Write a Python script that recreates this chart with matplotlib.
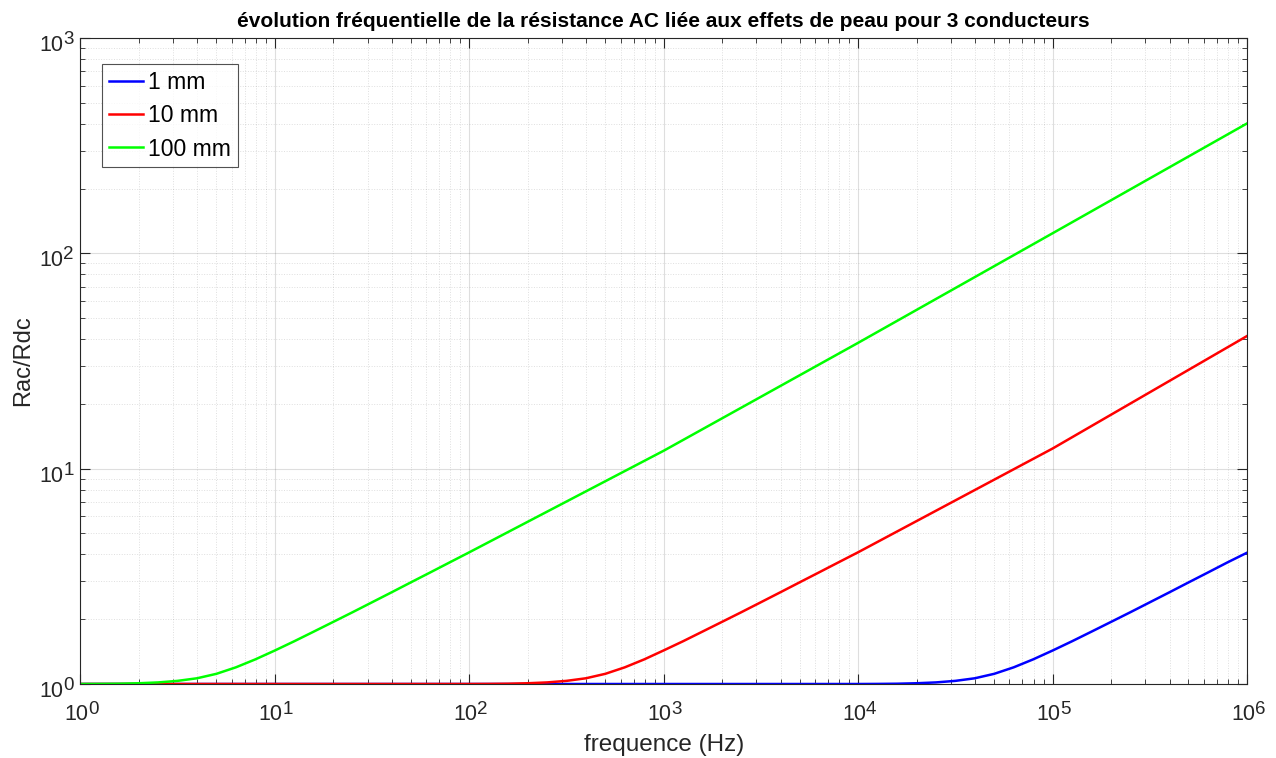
import matplotlib
matplotlib.use("Agg")
import matplotlib.pyplot as plt
from matplotlib.ticker import LogLocator, NullFormatter, FixedLocator

# ---- data ----
f_green = [1, 1.259, 1.585, 1.995, 2.512, 3.162, 3.981, 5.012, 6.310, 7.943, 10,
           12.59, 15.85, 19.95, 25.12, 31.62, 39.81, 50.12, 63.10, 79.43, 100,
           1e3, 1e4, 1e5, 1e6]
r_green = [1.000, 1.001, 1.003, 1.008, 1.017, 1.034, 1.063, 1.115, 1.195, 1.301, 1.430,
           1.579, 1.750, 1.941, 2.154, 2.395, 2.663, 2.965, 3.298, 3.672, 4.087,
           12.11, 38.4, 123.9, 401]

f_red = [1, 10, 100, 125.9, 158.5, 199.5, 251.2, 316.2, 398.1, 501.2, 631.0, 794.3, 1e3,
         1259, 1585, 1995, 2512, 3162, 3981, 5012, 6310, 7943, 1e4, 1e5, 1e6]
r_red = [1.0, 1.0, 1.000, 1.001, 1.003, 1.008, 1.017, 1.034, 1.063, 1.115, 1.195, 1.301,
         1.432, 1.580, 1.752, 1.943, 2.156, 2.397, 2.666, 2.968, 3.302, 3.676, 4.09,
         12.4, 41.3]

f_blue = [1, 10, 100, 1e3, 1e4, 1.259e4, 1.585e4, 1.995e4, 2.512e4, 3.162e4, 3.981e4,
          5.012e4, 6.310e4, 7.943e4, 1e5, 1.259e5, 1.585e5, 1.995e5, 2.512e5, 3.162e5,
          3.981e5, 5.012e5, 6.310e5, 7.943e5, 1e6]
r_blue = [1.0, 1.0, 1.0, 1.0, 1.000, 1.001, 1.003, 1.008, 1.017, 1.034, 1.063, 1.115,
          1.195, 1.301, 1.430, 1.579, 1.750, 1.941, 2.154, 2.395, 2.663, 2.965, 3.298,
          3.672, 4.07]

labels = ["1 mm", "10 mm", "100 mm"]
x_exponents = [0, 1, 2, 3, 4, 5, 6]
y_exponents = [0, 1, 2, 3]
title = "évolution fréquentielle de la résistance AC liée aux effets de peau pour 3 conducteurs"
xlabel = "frequence (Hz)"
ylabel = "Rac/Rdc"

plt.rcParams['font.family'] = ['Liberation Sans', 'DejaVu Sans']

fig = plt.figure(figsize=(12.76, 7.58), dpi=100)
ax = fig.add_axes([80.3 / 1276, 1 - 684 / 758, (1247 - 80.3) / 1276, (684 - 38) / 758])

axcol = (0.15, 0.15, 0.15)
ax.plot(f_blue, r_blue, color=(0, 0, 1), lw=1.8, label=labels[0])
ax.plot(f_red, r_red, color=(1, 0, 0), lw=1.8, label=labels[1])
ax.plot(f_green, r_green, color=(0, 1, 0), lw=1.8, label=labels[2])

ax.set_xscale('log')
ax.set_yscale('log')
ax.set_xlim(10 ** x_exponents[0], 10 ** x_exponents[-1])
ax.set_ylim(10 ** y_exponents[0], 10 ** y_exponents[-1])

ax.xaxis.set_major_locator(FixedLocator([10.0 ** e for e in x_exponents]))
ax.yaxis.set_major_locator(FixedLocator([10.0 ** e for e in y_exponents]))
ax.xaxis.set_minor_locator(LogLocator(base=10, subs=range(2, 10), numticks=100))
ax.yaxis.set_minor_locator(LogLocator(base=10, subs=range(2, 10), numticks=100))
for axis in (ax.xaxis, ax.yaxis):
    axis.set_major_formatter(NullFormatter())
    axis.set_minor_formatter(NullFormatter())

ax.grid(True, which='major', color=(0.15, 0.15, 0.15), alpha=0.15, lw=0.8, linestyle='-')
ax.grid(True, which='minor', color=(0.15, 0.15, 0.15), alpha=0.15, lw=0.7, linestyle=':')
ax.set_axisbelow(True)

for s in ax.spines.values():
    s.set_color(axcol)
    s.set_linewidth(0.8)
ax.tick_params(which='both', direction='in', top=True, right=True, colors=axcol)
ax.tick_params(which='major', length=7.2, width=0.8)
ax.tick_params(which='minor', length=3.3, width=0.6)

# MATLAB-like tick labels: "10" with a large, slightly raised exponent
base_fs, exp_fs = 15.5, 13.5
for e in x_exponents:
    ax.annotate("10", xy=(10.0 ** e, 0), xycoords=('data', 'axes fraction'),
                xytext=(8, -36), textcoords='offset pixels', ha='right', va='baseline',
                fontsize=base_fs, color=axcol)
    ax.annotate(str(e), xy=(10.0 ** e, 0), xycoords=('data', 'axes fraction'),
                xytext=(8, -30), textcoords='offset pixels', ha='left', va='baseline',
                fontsize=exp_fs, color=axcol)
for e in y_exponents:
    ax.annotate("10", xy=(0, 10.0 ** e), xycoords=('axes fraction', 'data'),
                xytext=(-17, -13), textcoords='offset pixels', ha='right', va='baseline',
                fontsize=base_fs, color=axcol)
    ax.annotate(str(e), xy=(0, 10.0 ** e), xycoords=('axes fraction', 'data'),
                xytext=(-17, -6), textcoords='offset pixels', ha='left', va='baseline',
                fontsize=exp_fs, color=axcol)

ax.set_xlabel(xlabel, fontsize=17.5, color=axcol, va='center')
ax.xaxis.set_label_coords(0.5, -(745 - 684) / 646)
ax.set_ylabel(ylabel, fontsize=17, color=axcol, va='center')
ax.yaxis.set_label_coords(-(80.3 - 23) / 1166.7, 0.5)
ax.set_title(title, fontsize=15, fontweight='bold', color='black', pad=8)

leg = ax.legend(loc='upper left', bbox_to_anchor=((102 - 80.3) / 1166.7, (684 - 64) / 646),
                fontsize=16.5, frameon=True, fancybox=False, handlelength=1.5,
                handletextpad=0.2, borderpad=0.3, labelspacing=0.45, borderaxespad=0)
leg.get_frame().set_edgecolor(axcol)
leg.get_frame().set_linewidth(0.8)
for t in leg.get_texts():
    t.set_color('black')

fig.savefig("out.png", dpi=100)
